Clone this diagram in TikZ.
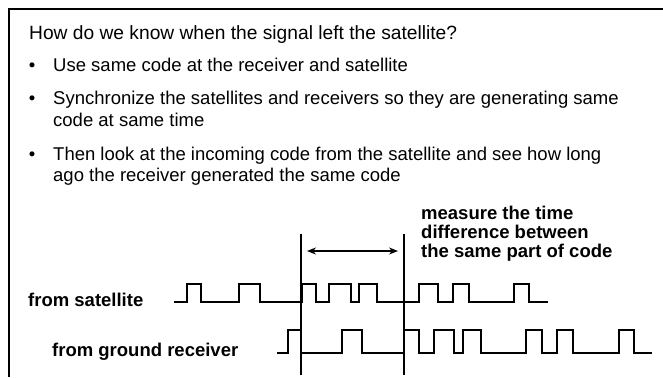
\documentclass[tikz,border=0pt]{standalone}
\usepackage{fontspec}
\setmainfont{Liberation Sans}
\usetikzlibrary{arrows.meta}
\begin{document}
\begin{tikzpicture}[x=1pt,y=-1pt,
  txt/.style={anchor=base west,inner sep=0pt,font=\fontsize{18.5}{20}\selectfont},
  lbl/.style={anchor=base west,inner sep=0pt,font=\fontsize{18.5}{20}\selectfont\bfseries},
  bul/.style={anchor=base,inner sep=0pt,font=\fontsize{18.5}{20}\selectfont},
  wave/.style={line width=1.4pt,line join=miter},
  marker/.style={line width=1.5pt},
  frame/.style={line width=2pt}]
\useasboundingbox (0,0) rectangle (663,377);
\fill[white] (0,0) rectangle (663,377);
\draw[frame] (9,377) -- (9,9) -- (663,9);
% text
\node[txt,font=\fontsize{19.2}{20}\selectfont] (q) at (29,40) {How do we know when the signal left the satellite?};
\node[bul] (b1) at (32,72) {•};
\node[txt] (t1) at (53,72) {Use same code at the receiver and satellite};
\node[bul] (b2) at (32,105) {•};
\node[txt] (t2a) at (53,105) {Synchronize the satellites and receivers so they are generating same};
\node[txt] (t2b) at (53,126) {code at same time};
\node[bul] (b3) at (32,160) {•};
\node[txt] (t3a) at (53,160) {Then look at the incoming code from the satellite and see how long};
\node[txt] (t3b) at (53,181) {ago the receiver generated the same code};
\node[lbl] (m1) at (421,219) {measure the time};
\node[lbl] (m2) at (421,238) {difference between};
\node[lbl] (m3) at (421,257) {the same part of code};
\node[lbl] (ls) at (28,306) {from satellite};
\node[lbl] (lr) at (52,356) {from ground receiver};
% markers
\coordinate (v1t) at (301,234); \coordinate (v1b) at (301,375);
\coordinate (v2t) at (404,234); \coordinate (v2b) at (404,375);
\draw[marker] (v1t) -- (v1b);
\draw[marker] (v2t) -- (v2b);
\coordinate (al) at (307,251); \coordinate (ar) at (398,251);
\draw[marker,{Stealth[length=9pt,width=7pt]}-{Stealth[length=9pt,width=7pt]}] (al) -- (ar);
% satellite code
\draw[wave] (174,302) -- (187,302) -- (187,284) -- (201,284) -- (201,302) -- (239,302) -- (239,284) -- (260,284) -- (260,302) -- (302,302) -- (302,284) -- (316,284) -- (316,302) -- (329,302) -- (329,284) -- (351,284) -- (351,302) -- (359,302) -- (359,284) -- (377,284) -- (377,302) -- (419,302) -- (419,284) -- (438,284) -- (438,302) -- (453,302) -- (453,284) -- (469,284) -- (469,302) -- (514,302) -- (514,284) -- (529,284) -- (529,302) -- (548,302);
% receiver code
\draw[wave] (277,353) -- (288,353) -- (288,330) -- (301,330) -- (301,353) -- (342,353) -- (342,330) -- (362,330) -- (362,353) -- (404,353) -- (404,330) -- (419,330) -- (419,353) -- (434,353) -- (434,330) -- (454,330) -- (454,353) -- (463,353) -- (463,330) -- (481,330) -- (481,353) -- (526,353) -- (526,330) -- (542,330) -- (542,353) -- (557,353) -- (557,330) -- (573,330) -- (573,353) -- (619,353) -- (619,330) -- (634,330) -- (634,353) -- (652,353);
\end{tikzpicture}
\end{document}
